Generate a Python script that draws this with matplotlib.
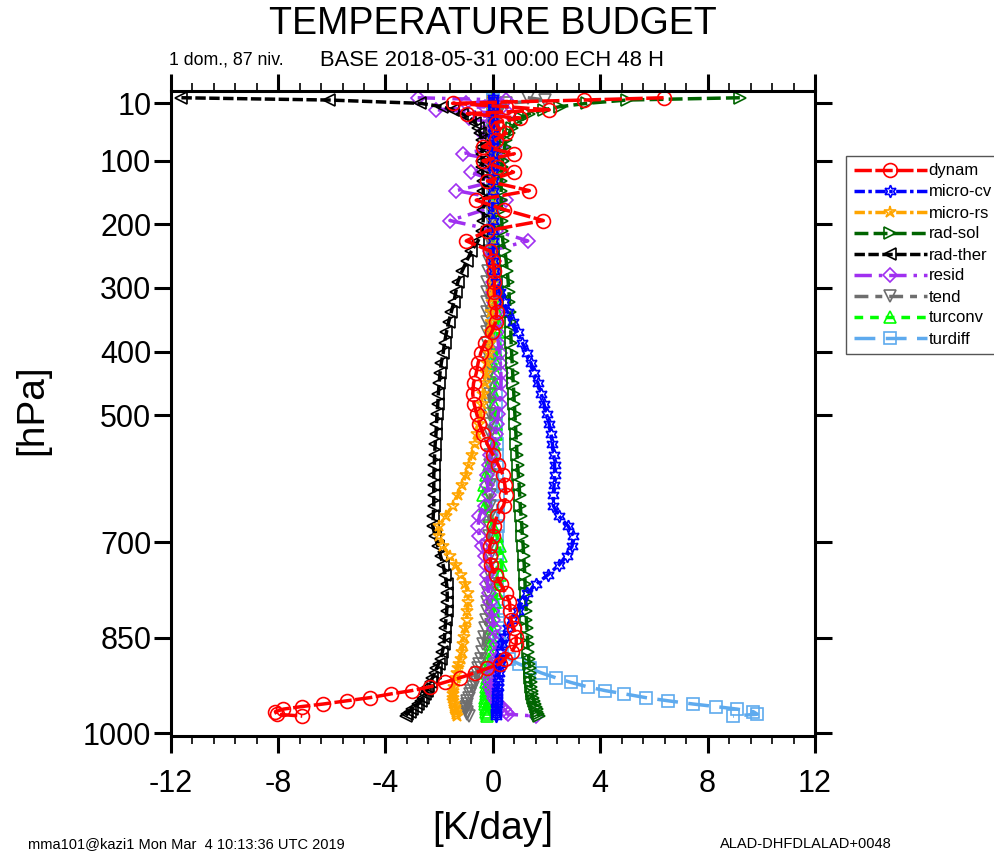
import matplotlib
matplotlib.use("Agg")
import matplotlib.pyplot as plt

plt.rcParams['font.family'] = ['Liberation Sans', 'DejaVu Sans']

# model levels (hPa)
lev = [1, 4.6, 9.8, 15, 20, 26, 33, 40, 48, 57, 67, 78, 89,
       100, 110, 118, 132, 147, 162, 177, 194, 210, 226, 242, 258, 274, 290,
       306, 322, 338, 354, 370, 386, 402, 418, 434, 450, 466, 482, 498,
       514, 530, 546, 562, 578, 594, 610, 626, 642, 658, 674, 690, 706,
       721, 736, 751, 766, 780, 794, 808, 822, 835, 848, 860,
       872, 883, 891, 898, 905, 913, 920, 927, 933, 938, 944, 949, 954, 958, 962, 966, 970, 973]

dynam = [6.36, 3.4, -1.5, 0.5, 2.1, -0.95, 1.0, 0.1, 0.2, 0.5, 0.1, -0.38, 0.8,
         -0.37, 0.2, 0.77, -0.2, 1.36, -0.62, 0.43, 1.88, -0.2, -0.99, -0.1, 0.0, 0.05, 0.06,
         0.05, 0.08, 0.15, 0.1, -0.05, -0.3, -0.45, -0.55, -0.62, -0.72, -0.75, -0.7, -0.6,
         -0.5, -0.35, -0.2, 0.0, 0.2, 0.38, 0.45, 0.5, 0.4, 0.15, 0.05, 0.0, -0.12,
         -0.12, -0.06, 0.1, 0.3, 0.48, 0.62, 0.65, 0.68, 0.78, 0.87, 0.87,
         0.7, 0.45, 0.25, -0.2, -0.68, -1.24, -1.8, -2.35, -3.03, -3.78, -4.58, -5.45, -6.32, -7.12, -7.8, -8.1, -8.05, -7.1]

micro_cv = [0.0, 0.0, 0.0, 0.0, 0.0, 0.0, 0.0, 0.0, 0.0, 0.0, 0.0, 0.0, 0.0,
            0.0, 0.0, 0.0, 0.0, 0.0, 0.0, 0.0, 0.0, 0.0, 0.01, 0.01, 0.02, 0.05, 0.12,
            0.25, 0.4, 0.55, 0.75, 0.92, 1.1, 1.27, 1.42, 1.55, 1.68, 1.8, 1.9, 2.0,
            2.1, 2.17, 2.22, 2.27, 2.3, 2.3, 2.28, 2.25, 2.25, 2.45, 2.8, 3.0, 2.95,
            2.75, 2.45, 2.05, 1.6, 1.28, 1.08, 0.92, 0.72, 0.55, 0.42, 0.35,
            0.3, 0.27, 0.25, 0.23, 0.22, 0.2, 0.2, 0.18, 0.17, 0.16, 0.15, 0.15, 0.14, 0.13, 0.12, 0.12, 0.12, 0.12]

micro_rs = [0.0, 0.0, 0.0, 0.0, 0.0, 0.0, 0.0, 0.0, 0.0, 0.0, 0.0, 0.0, 0.0,
            0.0, 0.0, 0.0, 0.0, 0.0, 0.0, 0.0, 0.0, 0.0, 0.0, 0.0, 0.0, 0.0, 0.0,
            -0.02, -0.04, -0.06, -0.08, -0.1, -0.12, -0.15, -0.2, -0.25, -0.3, -0.35, -0.4, -0.45,
            -0.5, -0.58, -0.66, -0.78, -0.9, -1.0, -1.15, -1.3, -1.5, -1.75, -2.0, -2.02, -1.85,
            -1.6, -1.38, -1.18, -1.02, -0.93, -0.92, -0.95, -0.98, -1.02, -1.08, -1.12,
            -1.15, -1.2, -1.25, -1.3, -1.35, -1.38, -1.42, -1.45, -1.47, -1.48, -1.48, -1.47, -1.45, -1.42, -1.4, -1.38, -1.36, -1.35]

rad_sol = [9.2, 5.0, 3.5, 2.5, 1.9, 1.35, 1.05, 0.85, 0.72, 0.6, 0.5, 0.44, 0.4,
           0.36, 0.34, 0.33, 0.31, 0.31, 0.31, 0.32, 0.33, 0.35, 0.37, 0.45, 0.5, 0.54, 0.57,
           0.6, 0.62, 0.64, 0.66, 0.67, 0.68, 0.7, 0.72, 0.74, 0.76, 0.78, 0.8, 0.82,
           0.84, 0.86, 0.88, 0.9, 0.92, 0.95, 0.98, 1.0, 1.02, 1.05, 1.08, 1.1, 1.13,
           1.15, 1.17, 1.19, 1.2, 1.22, 1.23, 1.24, 1.25, 1.27, 1.29, 1.3,
           1.32, 1.34, 1.36, 1.38, 1.39, 1.4, 1.42, 1.43, 1.45, 1.47, 1.5, 1.53, 1.56, 1.6, 1.63, 1.66, 1.7, 1.72]

rad_ther = [-11.6, -6.1, -2.7, -1.9, -1.5, -1.15, -0.85, -0.66, -0.55, -0.47, -0.42, -0.4, -0.4,
            -0.4, -0.4, -0.38, -0.36, -0.36, -0.35, -0.35, -0.36, -0.4, -0.55, -0.8, -0.98, -1.15, -1.3,
            -1.38, -1.45, -1.55, -1.65, -1.73, -1.8, -1.85, -1.92, -1.97, -2.0, -2.03, -2.05, -2.08,
            -2.1, -2.12, -2.15, -2.17, -2.18, -2.2, -2.2, -2.2, -2.2, -2.22, -2.24, -2.15, -2.05,
            -1.95, -1.85, -1.78, -1.72, -1.7, -1.7, -1.72, -1.75, -1.78, -1.8, -1.82,
            -1.88, -1.95, -2.02, -2.1, -2.17, -2.25, -2.32, -2.4, -2.47, -2.53, -2.6, -2.68, -2.78, -2.88, -3.0, -3.1, -3.2, -3.25]

resid = [-2.8, 0.5, -1.0, -0.3, -2.1, 0.6, -0.9, -0.1, 0.0, -0.4, 0.0, 0.3, -1.13,
         0.3, -0.1, -0.83, 0.1, -1.36, 0.5, -0.3, -1.6, 0.1, 1.3, -0.1, 0.05, 0.0, 0.0,
         0.0, 0.05, 0.1, 0.12, 0.15, 0.2, 0.25, 0.28, 0.3, 0.3, 0.28, 0.25, 0.2,
         0.15, 0.1, 0.0, -0.1, -0.15, -0.2, -0.2, -0.15, -0.3, -0.5, -0.55, -0.5, -0.4,
         -0.3, -0.25, -0.2, -0.2, -0.15, -0.1, -0.05, 0.0, 0.05, 0.1, 0.15,
         0.15, 0.1, 0.05, 0.0, -0.05, -0.1, -0.1, -0.1, -0.05, 0.0, 0.05, 0.1, 0.2, 0.3, 0.4, 0.5, 0.55, 1.6]

tend = [1.3, 1.95, 0.5, 0.3, 0.2, 0.15, 0.1, 0.08, 0.06, 0.05, 0.04, 0.03, 0.02,
        0.02, 0.0, -0.02, -0.03, -0.04, -0.05, -0.06, -0.08, -0.1, -0.12, -0.14, -0.16, -0.18, -0.2,
        -0.2, -0.22, -0.22, -0.22, -0.22, -0.2, -0.2, -0.18, -0.16, -0.14, -0.12, -0.12, -0.1,
        -0.1, -0.1, -0.1, -0.12, -0.12, -0.12, -0.1, -0.1, -0.1, -0.12, -0.15, -0.15, -0.12,
        -0.1, -0.1, -0.12, -0.15, -0.18, -0.2, -0.22, -0.25, -0.28, -0.32, -0.36,
        -0.4, -0.45, -0.5, -0.55, -0.6, -0.65, -0.7, -0.75, -0.8, -0.85, -0.9, -0.95, -0.98, -1.0, -1.0, -0.98, -0.95, -0.9]

turconv = [0.0, 0.0, 0.01, 0.01, 0.0, 0.0, 0.0, 0.0, 0.0, 0.0, 0.0, 0.0, 0.0,
           0.0, 0.0, 0.0, 0.0, 0.0, 0.0, 0.01, 0.01, 0.02, 0.03, 0.04, 0.05, 0.07, 0.08,
           0.1, 0.12, 0.15, 0.17, 0.18, 0.17, 0.15, 0.12, 0.1, 0.08, 0.06, 0.06, 0.08,
           0.12, 0.12, 0.05, -0.05, -0.15, -0.25, -0.32, -0.35, -0.3, -0.15, 0.0, 0.15, 0.25,
           0.3, 0.32, 0.28, 0.22, 0.15, 0.08, 0.02, -0.02, -0.05, -0.08, -0.1,
           -0.12, -0.14, -0.16, -0.18, -0.2, -0.22, -0.24, -0.25, -0.26, -0.27, -0.28, -0.28, -0.28, -0.27, -0.26, -0.25, -0.22, -0.2]

turdiff = [0.0, 0.0, 0.0, 0.0, 0.0, 0.0, 0.0, 0.0, 0.0, 0.0, 0.0, 0.0, 0.0,
           0.0, 0.0, 0.0, 0.0, 0.0, 0.0, 0.0, 0.0, 0.01, 0.01, 0.02, 0.02, 0.03, 0.04,
           0.05, 0.05, 0.06, 0.06, 0.07, 0.07, 0.08, 0.08, 0.09, 0.1, 0.1, 0.11, 0.12,
           0.12, 0.13, 0.14, 0.15, 0.16, 0.17, 0.18, 0.18, 0.18, 0.18, 0.18, 0.17, 0.16,
           0.15, 0.15, 0.16, 0.17, 0.18, 0.19, 0.2, 0.21, 0.22, 0.24, 0.27,
           0.35, 0.6, 0.97, 1.4, 1.8, 2.36, 2.9, 3.53, 4.19, 4.9, 5.7, 6.54, 7.46, 8.3, 9.1, 9.7, 9.85, 8.95]

names = ["dynam", "micro-cv", "micro-rs", "rad-sol", "rad-ther", "resid", "tend", "turconv", "turdiff"]
series = [dynam, micro_cv, micro_rs, rad_sol, rad_ther, resid, tend, turconv, turdiff]
colors = ["#ff0000", "#0000ff", "#ffa500", "#006400", "#000000", "#a030f0", "#6e6e6e", "#00ff00", "#5eaaee"]
markers = ["o", (6, 1, 0), "*", ">", "<", "D", "v", "^", "s"]
msizes = [10, 9, 9, 8, 8, 7, 8, 8, 9]
dashes = [(0, (5, 1)), (0, (3, 1, 1, 1)), (0, (3, 1, 1, 1)), (0, (4, 1.5)), (0, (3, 1)),
          (0, (5, 2, 1, 2)), (0, (4, 2, 2, 2)), (0, (2.5, 2)), (0, (6, 3))]

fig = plt.figure(figsize=(9.94, 8.55), dpi=100)
ax = fig.add_axes([170.7/994, 1-735.7/855, (815-170.7)/994, (735.7-91)/855])

handles = [None]*9
for i in reversed(range(9)):
    ln, = ax.plot(series[i], lev, color=colors[i], ls=dashes[i], lw=2.5,
                  marker=markers[i], ms=msizes[i], mfc='none', mec=colors[i], mew=1.2,
                  label=names[i])
    handles[i] = ln

ax.set_xlim(-12, 12)
ax.set_ylim(1003.8, -9.6)
ax.set_xticks([-12, -8, -4, 0, 4, 8, 12])
ax.set_xticklabels(["-12", "-8", "-4", "0", "4", "8", "12"])
ax.set_xticks([v*0.8 - 12 for v in range(31)], minor=True)
ax.set_yticks([10, 100, 200, 300, 400, 500, 700, 850, 1000])
ax.set_yticklabels(["10", "100", "200", "300", "400", "500", "700", "850", "1000"])

for s in ax.spines.values():
    s.set_linewidth(2.2)
ax.tick_params(axis='both', which='major', direction='out', length=12, width=2.2, labelsize=22)
ax.tick_params(axis='x', which='minor', direction='out', length=6, width=1.2)
ax.tick_params(top=True, right=True, which='both')
ax.tick_params(axis='x', which='major', pad=12)
ax.tick_params(axis='y', which='major', pad=2)
ax.tick_params(axis='y', which='minor', left=False, right=False)

fig.text(32/994, 1-410/855, "[hPa]", rotation=90, ha='center', va='center', fontsize=28)
fig.text(493/994, 1-829/855, "[K/day]", ha='center', va='center', fontsize=28)

fig.text(493/994, 1-24/855, "TEMPERATURE BUDGET", ha='center', va='center', fontsize=27)
fig.text(320/994, 1-60/855, "BASE 2018-05-31 00:00 ECH 48 H", ha='left', va='center', fontsize=15.8)
fig.text(169/994, 1-60/855, "1 dom., 87 niv.", ha='left', va='center', fontsize=12.8)
fig.text(28/994, 1-844/855, "mma101@kazi1 Mon Mar  4 10:13:36 UTC 2019", ha='left', va='center', fontsize=10.5)
fig.text(720/994, 1-844/855, "ALAD-DHFDLALAD+0048", ha='left', va='center', fontsize=10.5)

leg = fig.legend(handles=handles, labels=names, loc='upper left',
                 bbox_to_anchor=(846/994, 1-156/855), bbox_transform=fig.transFigure,
                 borderaxespad=0, borderpad=0.45, fontsize=12, handlelength=4.4,
                 handletextpad=0.1, labelspacing=0.36, fancybox=False, framealpha=1)
leg.get_frame().set_edgecolor("#555555")
leg.get_frame().set_linewidth(1.0)

fig.savefig("out.png", dpi=100)
